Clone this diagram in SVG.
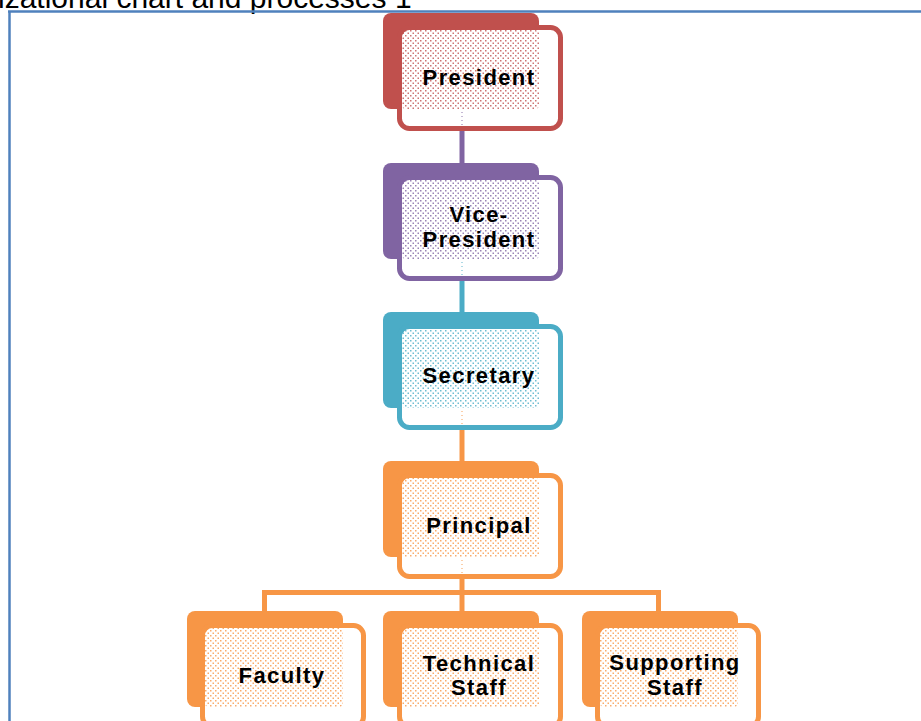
<svg xmlns="http://www.w3.org/2000/svg" width="921" height="721" viewBox="0 0 921 721">
<defs>
<pattern id="pr" width="5" height="5" patternUnits="userSpaceOnUse"><rect x="0" y="0" width="1.5" height="1.5" fill="#C0504D" opacity="0.8"/><rect x="2.5" y="2.5" width="1.5" height="1.5" fill="#C0504D" opacity="0.8"/></pattern>
<pattern id="pp" width="5" height="5" patternUnits="userSpaceOnUse"><rect x="0" y="0" width="1.5" height="1.5" fill="#8064A2" opacity="0.8"/><rect x="2.5" y="2.5" width="1.5" height="1.5" fill="#8064A2" opacity="0.8"/></pattern>
<pattern id="pt" width="5" height="5" patternUnits="userSpaceOnUse"><rect x="0" y="0" width="1.5" height="1.5" fill="#4BACC6" opacity="0.8"/><rect x="2.5" y="2.5" width="1.5" height="1.5" fill="#4BACC6" opacity="0.8"/></pattern>
<pattern id="po" width="5" height="5" patternUnits="userSpaceOnUse"><rect x="0" y="0" width="1.5" height="1.5" fill="#F79646" opacity="0.8"/><rect x="2.5" y="2.5" width="1.5" height="1.5" fill="#F79646" opacity="0.8"/></pattern>
</defs>
<style>
.back{stroke:none}
.front{fill:#ffffff;stroke-width:5}
.lbl{font-family:"Liberation Sans",Arial,sans-serif;font-weight:bold;font-size:22px;letter-spacing:1.4px;text-anchor:middle;fill:#000}
.conn{fill:none;stroke-width:5}
.red{fill:#C0504D}.pur{fill:#8064A2}.teal{fill:#4BACC6}.org{fill:#F79646}
</style>
<rect width="921" height="721" fill="#ffffff"/>
<text x="-2" y="8" font-family="'Liberation Sans',Arial,sans-serif" font-size="30" fill="#000">izational chart and processes 1</text>
<g id="frame" fill="none" stroke="#4F81BD" stroke-width="2.5">
<line x1="8" y1="11.5" x2="921" y2="11.5"/>
<line x1="9.5" y1="11" x2="9.5" y2="721"/>
</g>
<g id="connectors" class="conn">
<line x1="462" y1="129" x2="462" y2="163" stroke="#8064A2"/>
<line x1="462" y1="279" x2="462" y2="312" stroke="#4BACC6"/>
<line x1="462" y1="428" x2="462" y2="461" stroke="#F79646"/>
<line x1="462" y1="577" x2="462" y2="611" stroke="#F79646"/>
<polyline points="264.5,611 264.5,592.5 658.5,592.5 658.5,611" stroke="#F79646"/>
</g>
<g id="president">
<rect class="back red" x="383" y="13" width="156" height="96" rx="8"/>
<rect class="front" x="399.5" y="27.5" width="161" height="101" rx="10" stroke="#C0504D"/>
<rect x="402" y="30" width="137" height="79" rx="4" fill="url(#pr)"/>
<line x1="462" y1="112" x2="462" y2="128" stroke="#8064A2" stroke-width="1.5" stroke-dasharray="1 3" opacity="0.6"/>
<text class="lbl" x="479" y="85">President</text>
</g>
<g id="vice-president">
<rect class="back pur" x="383" y="163" width="156" height="96" rx="8"/>
<rect class="front" x="399.5" y="177.5" width="161" height="101" rx="10" stroke="#8064A2"/>
<rect x="402" y="180" width="137" height="79" rx="4" fill="url(#pp)"/>
<line x1="462" y1="262" x2="462" y2="278" stroke="#4BACC6" stroke-width="1.5" stroke-dasharray="1 3" opacity="0.6"/>
<text class="lbl" x="479" y="222">Vice-</text>
<text class="lbl" x="479" y="247">President</text>
</g>
<g id="secretary">
<rect class="back teal" x="383" y="312" width="156" height="96" rx="8"/>
<rect class="front" x="399.5" y="326.5" width="161" height="101" rx="10" stroke="#4BACC6"/>
<rect x="402" y="329" width="137" height="79" rx="4" fill="url(#pt)"/>
<line x1="462" y1="411" x2="462" y2="427" stroke="#F79646" stroke-width="1.5" stroke-dasharray="1 3" opacity="0.6"/>
<text class="lbl" x="479" y="383">Secretary</text>
</g>
<g id="principal">
<rect class="back org" x="383" y="461" width="156" height="96" rx="8"/>
<rect class="front" x="399.5" y="475.5" width="161" height="101" rx="10" stroke="#F79646"/>
<rect x="402" y="478" width="137" height="79" rx="4" fill="url(#po)"/>
<line x1="462" y1="560" x2="462" y2="576" stroke="#F79646" stroke-width="1.5" stroke-dasharray="1 3" opacity="0.6"/>
<text class="lbl" x="479" y="533">Principal</text>
</g>
<g id="faculty">
<rect class="back org" x="187" y="611" width="156" height="96" rx="8"/>
<rect class="front" x="202.5" y="625.5" width="161" height="101" rx="10" stroke="#F79646"/>
<rect x="205" y="628" width="138" height="79" rx="4" fill="url(#po)"/>
<text class="lbl" x="282" y="683">Faculty</text>
</g>
<g id="technical-staff">
<rect class="back org" x="383" y="611" width="156" height="96" rx="8"/>
<rect class="front" x="399.5" y="625.5" width="161" height="101" rx="10" stroke="#F79646"/>
<rect x="402" y="628" width="137" height="79" rx="4" fill="url(#po)"/>
<text class="lbl" x="479" y="671">Technical</text>
<text class="lbl" x="479" y="695">Staff</text>
</g>
<g id="supporting-staff">
<rect class="back org" x="582" y="611" width="156" height="96" rx="8"/>
<rect class="front" x="597.5" y="625.5" width="161" height="101" rx="10" stroke="#F79646"/>
<rect x="600" y="628" width="138" height="79" rx="4" fill="url(#po)"/>
<text class="lbl" x="675" y="670">Supporting</text>
<text class="lbl" x="675" y="695">Staff</text>
</g>
</svg>
